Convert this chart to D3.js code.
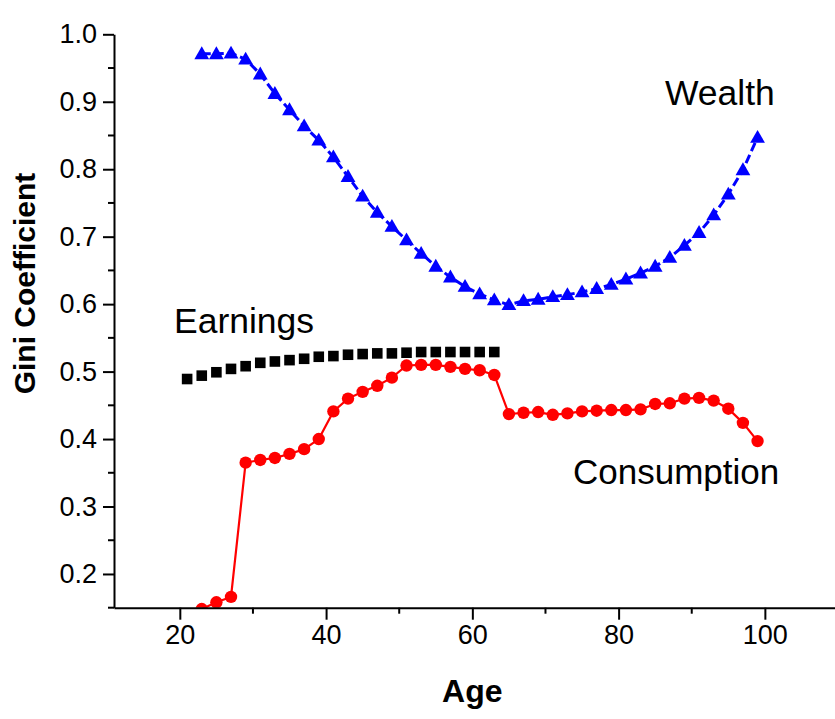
<!DOCTYPE html>
<html>
<head>
<meta charset="utf-8">
<script src="https://cdn.jsdelivr.net/npm/d3@7"></script>
<style>
  html, body { margin: 0; padding: 0; background: #fff; }
  svg { display: block; font-family: "Liberation Sans", Arial, sans-serif; }
</style>
</head>
<body>
<svg id="chart" width="835" height="719"></svg>
<script>
// Gini coefficients over the life cycle
const wealthAges = d3.range(23, 100, 2);
const wealth = [0.971, 0.971, 0.972, 0.963, 0.941, 0.912, 0.888, 0.864, 0.843, 0.818,
                0.789, 0.760, 0.736, 0.715, 0.695, 0.675, 0.656, 0.640, 0.626, 0.615,
                0.606, 0.599, 0.605, 0.607, 0.611, 0.614, 0.618, 0.623, 0.629, 0.637,
                0.646, 0.656, 0.669, 0.687, 0.706, 0.732, 0.763, 0.799, 0.847];

const earningsAges = d3.range(21, 64, 2);
const earnings = [0.489, 0.494, 0.499, 0.504, 0.508, 0.513, 0.515, 0.517, 0.519, 0.522,
                  0.523, 0.525, 0.526, 0.527, 0.527, 0.528, 0.529, 0.529, 0.529, 0.529,
                  0.529, 0.529];

const consumptionAges = d3.range(23, 100, 2);
const consumption = [0.148, 0.158, 0.166, 0.365, 0.369, 0.372, 0.378, 0.385, 0.400, 0.441,
                     0.460, 0.470, 0.479, 0.491, 0.509, 0.510, 0.510, 0.507, 0.504, 0.502,
                     0.495, 0.437, 0.439, 0.440, 0.436, 0.438, 0.441, 0.442, 0.443, 0.443,
                     0.444, 0.452, 0.453, 0.460, 0.461, 0.457, 0.445, 0.424, 0.397];

const xTickValues = [20, 40, 60, 80, 100];
const xMinorValues = [30, 50, 70, 90];
const yTickValues = [0.2, 0.3, 0.4, 0.5, 0.6, 0.7, 0.8, 0.9, 1.0];
const yMinorValues = [0.15, 0.25, 0.35, 0.45, 0.55, 0.65, 0.75, 0.85, 0.95];

const svg = d3.select("#chart");
const plotLeft = 114, plotRight = 838, plotTop = 34.3, plotBottom = 607.7;

const x = d3.scaleLinear().domain([11, 110]).range([plotLeft, plotRight]);
const y = d3.scaleLinear().domain([0.15, 1.0]).range([plotBottom, plotTop]);

svg.append("defs").append("clipPath").attr("id", "plot-clip")
  .append("rect").attr("x", plotLeft).attr("y", 0)
  .attr("width", plotRight - plotLeft).attr("height", plotBottom);

const plot = svg.append("g").attr("clip-path", "url(#plot-clip)");

const zip = (ages, vals) => ages.map((a, i) => ({ age: a, v: vals[i] }));
const line = d3.line().x(d => x(d.age)).y(d => y(d.v));

// Wealth: dashed blue line with triangles
const wData = zip(wealthAges, wealth);
plot.append("path").datum(wData)
  .attr("d", line).attr("fill", "none").attr("stroke", "#0000ff")
  .attr("stroke-width", 3).attr("stroke-dasharray", "9,4");
const tri = d3.symbol().type(d3.symbolTriangle).size(95);
plot.selectAll(".w").data(wData).enter().append("path")
  .attr("d", tri)
  .attr("transform", d => `translate(${x(d.age)},${y(d.v) + 1})`)
  .attr("fill", "#0000ff");

// Earnings: black squares
const eData = zip(earningsAges, earnings);
plot.selectAll(".e").data(eData).enter().append("rect")
  .attr("x", d => x(d.age) - 5.3).attr("y", d => y(d.v) - 5.3)
  .attr("width", 10.6).attr("height", 10.6).attr("fill", "#000");

// Consumption: solid red line with circles
const cData = zip(consumptionAges, consumption);
plot.append("path").datum(cData)
  .attr("d", line).attr("fill", "none").attr("stroke", "#ff0000")
  .attr("stroke-width", 2.2);
plot.selectAll(".c").data(cData).enter().append("circle")
  .attr("cx", d => x(d.age)).attr("cy", d => y(d.v))
  .attr("r", 6.2).attr("fill", "#ff0000");

// Axes
const xAxis = svg.append("g").attr("transform", `translate(0,${plotBottom})`)
  .call(d3.axisBottom(x).tickValues(xTickValues).tickFormat(d3.format("d"))
    .tickSize(12).tickSizeOuter(0).tickPadding(5));
xAxis.select(".domain").attr("stroke-width", 2);
xAxis.selectAll(".tick line").attr("stroke-width", 2);
xAxis.selectAll(".tick text").attr("font-size", 27).attr("fill", "#000")
  .attr("font-family", "Liberation Sans, Arial, sans-serif");
xAxis.selectAll(".minor").data(xMinorValues).enter().append("line")
  .attr("x1", d => x(d)).attr("x2", d => x(d)).attr("y1", 0).attr("y2", 6)
  .attr("stroke", "#000").attr("stroke-width", 2);

const yAxis = svg.append("g").attr("transform", `translate(${plotLeft},0)`)
  .call(d3.axisLeft(y).tickValues(yTickValues).tickFormat(d3.format(".1f"))
    .tickSize(11).tickSizeOuter(0).tickPadding(6));
yAxis.select(".domain").attr("stroke-width", 2);
yAxis.selectAll(".tick line").attr("stroke-width", 2);
yAxis.selectAll(".tick text").attr("font-size", 27).attr("fill", "#000")
  .attr("font-family", "Liberation Sans, Arial, sans-serif");
yAxis.selectAll(".minor").data(yMinorValues).enter().append("line")
  .attr("x1", -6).attr("x2", 0).attr("y1", d => y(d)).attr("y2", d => y(d))
  .attr("stroke", "#000").attr("stroke-width", 2);

// Axis titles
svg.append("text").attr("x", x(60)).attr("y", 701.7)
  .attr("text-anchor", "middle").attr("font-size", 32).attr("font-weight", "bold")
  .text("Age");
svg.append("text").attr("transform", "translate(35,283.5) rotate(-90)")
  .attr("text-anchor", "middle").attr("font-size", 30).attr("font-weight", "bold")
  .text("Gini Coefficient");

// Series labels
svg.append("text").attr("x", 665).attr("y", 105).attr("font-size", 35.5).text("Wealth");
svg.append("text").attr("x", 174).attr("y", 332.7).attr("font-size", 35.5).text("Earnings");
svg.append("text").attr("x", 573).attr("y", 484.3).attr("font-size", 35).text("Consumption");
</script>
</body>
</html>
